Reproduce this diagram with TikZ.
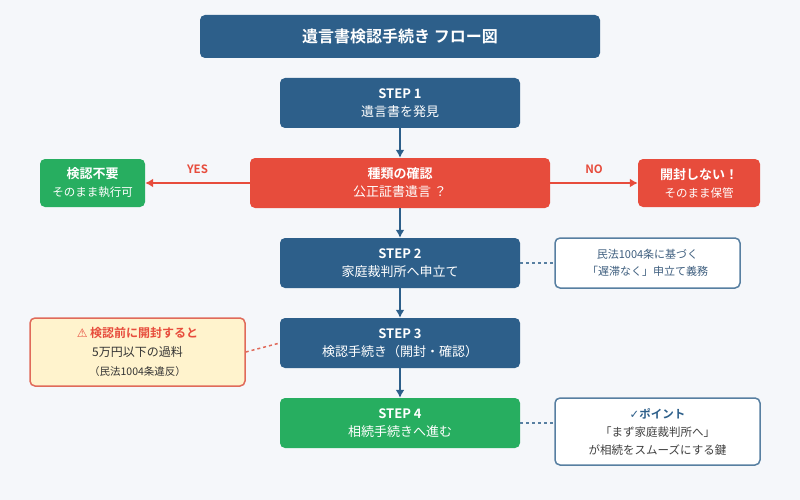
\documentclass[tikz,border=0pt]{standalone}
\usepackage{fontspec}
\usetikzlibrary{arrows.meta}
\setmainfont{Noto Sans CJK JP}[BoldFont={Noto Sans CJK JP Bold}]
\newfontfamily\djv{DejaVu Sans}
\definecolor{blue1}{HTML}{2D5F8A}
\definecolor{red1}{HTML}{E74C3C}
\definecolor{green1}{HTML}{27AE60}
\definecolor{bg}{HTML}{F5F7FA}
\definecolor{warnbg}{HTML}{FFF3CD}
\definecolor{warnbd}{HTML}{E06A5A}
\definecolor{notetx}{HTML}{3F5F7F}
\begin{document}
\begin{tikzpicture}[x=1pt,y=-1pt,
 box/.style={rounded corners=5pt,text=white,align=center,inner sep=0pt,font=\fontsize{13}{18}\selectfont},
 arr/.style={draw=blue1,line width=2pt,-{Latex[length=8pt,width=9pt]}},
 dashln/.style={dash pattern=on 3pt off 3pt,line width=1.5pt}]
\fill[bg] (0,0) rectangle (800,500);
\useasboundingbox (0,0) rectangle (800,500);
\node[box,fill=blue1,minimum width=400pt,minimum height=43pt,font=\fontsize{16}{19}\selectfont\bfseries] (title) at (400,36.5) {遺言書検認手続き フロー図};
\node[box,fill=blue1,minimum width=240pt,minimum height=50pt] (s1) at (400,103) {\textbf{STEP 1}\\遺言書を発見};
\node[box,fill=red1,minimum width=300pt,minimum height=50pt] (t) at (400,183) {\textbf{種類の確認}\\公正証書遺言 ？};
\node[box,fill=green1,minimum width=105pt,minimum height=48pt] (l) at (92.5,183) {\textbf{検認不要}\\{\fontsize{11.5}{16}\selectfont そのまま執行可}};
\node[box,fill=red1,minimum width=122pt,minimum height=48pt] (r) at (699,183) {\textbf{開封しない！}\\{\fontsize{11.5}{16}\selectfont そのまま保管}};
\node[box,fill=blue1,minimum width=240pt,minimum height=50pt] (s2) at (400,263) {\textbf{STEP 2}\\家庭裁判所へ申立て};
\node[box,fill=blue1,minimum width=240pt,minimum height=50pt] (s3) at (400,343) {\textbf{STEP 3}\\検認手続き（開封・確認）};
\node[box,fill=green1,minimum width=240pt,minimum height=50pt] (s4) at (400,423) {\textbf{STEP 4}\\相続手続きへ進む};
\node[box,fill=white,draw=blue1!80,line width=1.5pt,text=notetx,minimum width=185pt,minimum height=50pt,font=\fontsize{11}{17}\selectfont] (n1) at (647.5,263) {民法1004条に基づく\\「遅滞なく」申立て義務};
\node[box,fill=white,draw=blue1!80,line width=1.5pt,text=black!75,minimum width=205pt,minimum height=67pt,font=\fontsize{11.5}{18}\selectfont] (n2) at (657.5,431.5) {\textcolor{blue1}{\textbf{{\djv ✓}ポイント}}\\「まず家庭裁判所へ」\\が相続をスムーズにする鍵};
\node[box,fill=warnbg,draw=warnbd,line width=1.5pt,text=black!80,minimum width=215pt,minimum height=68pt,font=\fontsize{12}{19}\selectfont] (w) at (137.5,352) {\textcolor{red1}{\textbf{{\djv ⚠} 検認前に開封すると}}\\5万円以下の過料\\{\fontsize{10.5}{12}\selectfont（民法1004条違反）}};
\draw[arr] (s1) -- (t);
\draw[arr] (t) -- (s2);
\draw[arr] (s2) -- (s3);
\draw[arr] (s3) -- (s4);
\draw[arr,draw=red1] (t.west) -- node[above=5pt,text=red1,font=\fontsize{11.5}{13}\selectfont\bfseries]{YES} (l.east);
\draw[arr,draw=red1] (t.east) -- node[above=5pt,text=red1,font=\fontsize{11.5}{13}\selectfont\bfseries]{NO} (r.west);
\draw[dashln,blue1!80] (s2.east) -- (n1.west);
\draw[dashln,blue1!80] (s4.east) -- (n2.west|-s4.east);
\draw[dashln,warnbd] (w.east) -- (s3.west);
\end{tikzpicture}
\end{document}
